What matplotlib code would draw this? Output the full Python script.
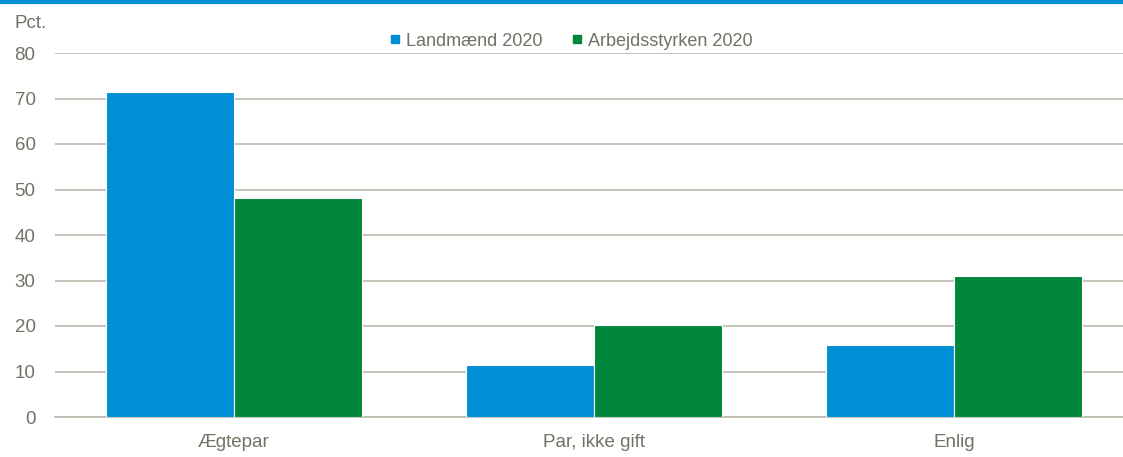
import numpy as np
import matplotlib
matplotlib.use("Agg")
from matplotlib import pyplot as plt
from matplotlib.lines import Line2D

categories = ["Ægtepar", "Par, ikke gift", "Enlig"]
landmaend = [71.4, 11.5, 15.8]
arbejdsstyrken = [48.2, 20.2, 31.0]
series_names = ["Landmænd 2020", "Arbejdsstyrken 2020"]

blue = "#008fd5"
green = "#00873c"
txt = "#707263"
grid = "#bdbab0"

plt.rcParams['font.family'] = ['Liberation Sans', 'DejaVu Sans']

fig = plt.figure(figsize=(11.23, 4.57), dpi=100)
ax = fig.add_axes([55 / 1123, 1 - 417 / 457, 1 - 55 / 1123, 364 / 457])

x = np.arange(len(categories))
w = 0.355
ax.bar(x - w / 2, landmaend, w, color=blue, edgecolor="white", linewidth=0.8, zorder=3)
ax.bar(x + w / 2, arbejdsstyrken, w, color=green, edgecolor="white", linewidth=0.8, zorder=3)

ax.set_xlim(-0.497, 2.469)
ax.set_ylim(0, 80)
ax.set_yticks(range(0, 81, 10))
ax.set_xticks(x)
ax.set_xticklabels(categories)
ax.yaxis.grid(True, color=grid, linewidth=1.2, zorder=0)
for s in ["top", "right", "left"]:
    ax.spines[s].set_visible(False)
ax.spines["bottom"].set_color(grid)
ax.spines["bottom"].set_linewidth(1.2)
ax.tick_params(axis="both", length=0, colors=txt, labelsize=13.5)
ax.tick_params(axis="y", pad=14)
ax.tick_params(axis="x", pad=12)

fig.text(15 / 1123, 1 - 23 / 457, "Pct.", color=txt, fontsize=13.5, va="center", ha="left")

handles = [Line2D([], [], marker="s", linestyle="none", color=blue, markersize=6),
           Line2D([], [], marker="s", linestyle="none", color=green, markersize=6)]
fig.legend(handles, series_names, loc="center", bbox_to_anchor=(571 / 1123, 1 - 41 / 457),
           ncol=2, frameon=False, fontsize=13, labelcolor=txt, handletextpad=0.3,
           columnspacing=1.6, handlelength=0.6)

# blue rule along the top edge
fig.add_artist(Line2D([0, 1], [1 - 1.5 / 457, 1 - 1.5 / 457], color=blue, linewidth=3,
                      transform=fig.transFigure))

fig.savefig("out.png", dpi=100)
